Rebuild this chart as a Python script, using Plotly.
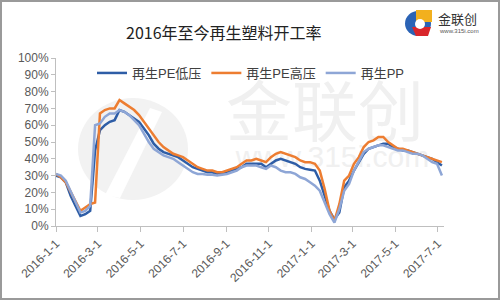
import pandas as pd
import plotly.graph_objects as go

# ---- data (weekly) ----
start_date = "2016-01-01"
n_weeks = 80
dates = pd.date_range(start_date, periods=n_weeks, freq="7D")

pe_low = [30, 29, 26, 18, 12, 6, 7, 9, 45, 57,
          60, 62, 63, 69, 68, 66, 64, 62, 58, 54,
          49, 46, 44, 43, 42, 41, 39, 37, 35, 34,
          33, 32, 32, 31, 31, 32, 33, 34, 35, 37,
          37, 37, 37, 35, 37, 39, 40, 39, 38, 37,
          35, 34, 33.5, 33, 27, 18, 9, 4, 8, 23,
          27, 33, 38, 43, 46, 47, 48, 49, 49, 47,
          46, 45, 45, 44, 43, 42, 41, 40, 38, 36]

pe_high = [31, 29, 26, 20, 15, 9, 11, 13, 14, 67,
           69, 70, 70, 75, 73, 71, 69, 66, 62, 58,
           54, 50, 47, 45, 43, 42, 41, 39, 37, 35,
           34, 33, 33, 32, 32, 33, 34, 35, 37, 39,
           39, 40, 39, 38, 41, 43, 44, 43, 42, 41,
           39, 38, 38, 37, 33, 22, 9, 3, 13, 27,
           30, 37, 41, 47, 50, 51, 53, 53, 50, 48,
           46, 46, 45, 44, 43, 42, 41, 40, 39, 38]

pp = [31, 30, 27, 21, 14, 8, 9, 12, 60, 61,
      65, 67, 67, 69, 68, 66, 63, 60, 55, 50,
      46, 44, 42, 41, 40, 38, 36, 34, 32, 31,
      31, 30.5, 30.5, 30, 30.5, 31, 32, 33, 35, 36,
      36, 36, 35, 34, 36, 35, 33, 32, 32, 31,
      29, 28, 26, 24, 21, 14, 7, 2, 10, 21,
      25, 33, 39, 44, 46, 47, 48, 48, 47, 46,
      45, 45, 44, 43, 43, 42, 40, 38, 37, 30]

series_names = ["再生PE低压", "再生PE高压", "再生PP"]
series_colors = ["#2E5DA6", "#ED7D31", "#8EA6D6"]

tick_dates = ["2016-01-01", "2016-03-01", "2016-05-01", "2016-07-01", "2016-09-01",
              "2016-11-01", "2017-01-01", "2017-03-01", "2017-05-01", "2017-07-01"]
tick_labels = ["2016-1-1", "2016-3-1", "2016-5-1", "2016-7-1", "2016-9-1",
               "2016-11-1", "2017-1-1", "2017-3-1", "2017-5-1", "2017-7-1"]

title_text = "2016年至今再生塑料开工率"

# ---- layout geometry ----
W, H = 500, 300
ML, MR, MT, MB = 56, 56, 58, 74
PW, PH = W - ML - MR, H - MT - MB


def px(x):
    return (x - ML) / PW


def py(y):
    return (H - MB - y) / PH


fig = go.Figure()
for name, vals, col in zip(series_names, [pe_low, pe_high, pp], series_colors):
    fig.add_trace(go.Scatter(
        x=dates, y=[v / 100 for v in vals], mode="lines", name=name,
        line=dict(color=col, width=2.5), hoverinfo="skip"))

shapes = []
# outer border
shapes.append(dict(type="rect", xref="paper", yref="paper",
                   x0=px(1), x1=px(499), y0=py(299), y1=py(1),
                   line=dict(color="#9a9a9a", width=2), fillcolor="rgba(0,0,0,0)",
                   layer="above"))
# watermark circle
shapes.append(dict(type="circle", xref="paper", yref="paper",
                   x0=px(78), x1=px(188), y0=py(200), y1=py(98),
                   line=dict(width=0), fillcolor="#f2f2f2", layer="below"))
shapes.append(dict(type="path", xref="paper", yref="paper",
                   path=f"M {px(105)} {py(195)} L {px(150)} {py(108)} L {px(162)} {py(112)} L {px(120)} {py(198)} Z",
                   line=dict(width=0), fillcolor="#ffffff", layer="below"))
# watermark texts
shapes.append(dict(type="rect", xref="paper", yref="paper",
                   x0=px(210), x1=px(440), y0=py(152), y1=py(83),
                   line=dict(width=0), fillcolor="rgba(0,0,0,0)", layer="below",
                   label=dict(text="金联创", font=dict(size=66, color="#f0f0f0",
                              family="Noto Sans CJK SC"), textposition="middle center")))
shapes.append(dict(type="rect", xref="paper", yref="paper",
                   x0=px(240), x1=px(425), y0=py(168), y1=py(138),
                   line=dict(width=0), fillcolor="rgba(0,0,0,0)", layer="below",
                   label=dict(text="www.315i.com", font=dict(size=30, color="#f0f0f0",
                              family="Liberation Sans"), textposition="middle center")))
# top-right logo icon
shapes.append(dict(type="circle", xref="paper", yref="paper",
                   x0=px(405), x1=px(431), y0=py(36), y1=py(11),
                   line=dict(width=0), fillcolor="#2B63B5", layer="above"))
shapes.append(dict(type="rect", xref="paper", yref="paper",
                   x0=px(416), x1=px(432), y0=py(22), y1=py(10),
                   line=dict(width=0), fillcolor="#F2B01E", layer="above"))
shapes.append(dict(type="path", xref="paper", yref="paper",
                   path=f"M {px(412)} {py(27)} L {px(431)} {py(27)} L {px(428)} {py(36)} L {px(416)} {py(36)} Z",
                   line=dict(width=0), fillcolor="#D9262B", layer="above"))
shapes.append(dict(type="circle", xref="paper", yref="paper",
                   x0=px(415), x1=px(425), y0=py(29), y1=py(19),
                   line=dict(width=0), fillcolor="#ffffff", layer="above"))

annotations = [
    dict(text=title_text, xref="paper", yref="paper", x=px(224), y=py(32),
         showarrow=False, xanchor="center", yanchor="middle",
         font=dict(size=16, color="#222222", family="Noto Sans CJK SC")),
    dict(text="金联创", xref="paper", yref="paper", x=px(436), y=py(19),
         showarrow=False, xanchor="left", yanchor="middle",
         font=dict(size=13, color="#333333", family="Noto Sans CJK SC")),
    dict(text="www.315i.com", xref="paper", yref="paper", x=px(437), y=py(31),
         showarrow=False, xanchor="left", yanchor="middle",
         font=dict(size=6, color="#555555", family="Liberation Sans")),
]

fig.update_layout(
    width=W, height=H,
    margin=dict(l=ML, r=MR, t=MT, b=MB, pad=0),
    paper_bgcolor="white", plot_bgcolor="white",
    font=dict(family="Liberation Sans, Noto Sans CJK SC", size=12, color="#595959"),
    showlegend=True,
    legend=dict(orientation="h", x=px(92), y=py(73), xanchor="left", yanchor="middle",
                font=dict(size=13, color="#404040", family="Liberation Sans, Noto Sans CJK SC"),
                bgcolor="rgba(0,0,0,0)", itemwidth=30, tracegroupgap=0),
    shapes=shapes,
    annotations=annotations,
    xaxis=dict(type="date", range=["2016-01-01", "2017-07-10"],
               tickvals=tick_dates, ticktext=tick_labels, tickangle=-45,
               showgrid=False, zeroline=False, showline=True, linecolor="#bfbfbf", linewidth=1,
               ticks="outside", ticklen=5, tickcolor="#bfbfbf",
               tickfont=dict(size=12, color="#595959")),
    yaxis=dict(range=[0, 1], dtick=0.1, tickformat=".0%",
               showgrid=False, zeroline=False, showline=True, linecolor="#bfbfbf", linewidth=1,
               ticks="outside", ticklen=4, tickcolor="#bfbfbf",
               tickfont=dict(size=12, color="#595959")),
)

fig.write_html("out.html")
